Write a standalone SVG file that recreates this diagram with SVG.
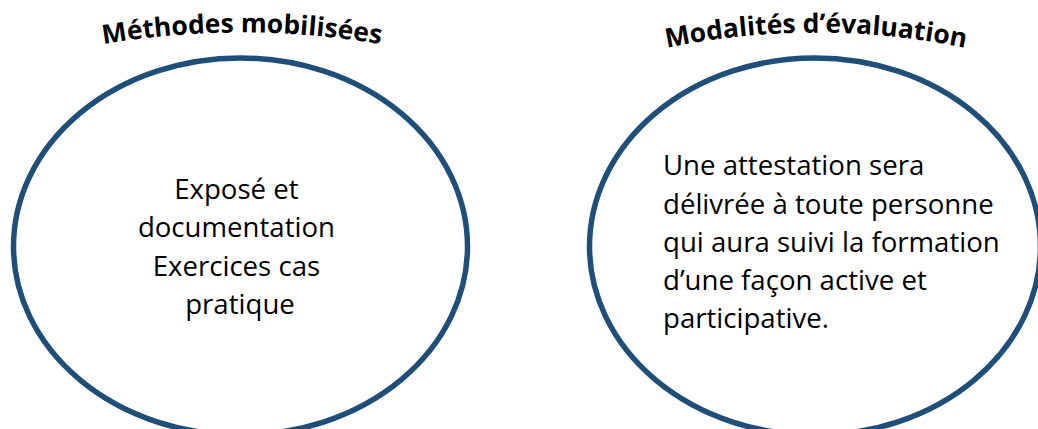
<svg xmlns="http://www.w3.org/2000/svg" xmlns:xlink="http://www.w3.org/1999/xlink" width="1038" height="429" viewBox="0 0 1038 429">
<style>
.oval{fill:#FFFFFF;stroke:#1F4E79;stroke-width:5.5}
.title{font-family:"Open Sans","Noto Sans","Liberation Sans",sans-serif;font-weight:bold;font-size:26.4px;fill:#000000}
.body{font-family:"Open Sans","Noto Sans","Liberation Sans",sans-serif;font-size:27.6px;fill:#000000}
</style>
<defs>
<path id="arcL" d="M 88 47 A 822 822 0 0 1 396 47"/>
<path id="arcR" d="M 650 51.5 A 737 737 0 0 1 982 51.5"/>
</defs>
<rect width="1038" height="429" fill="#FFFFFF"/>
<g id="connectors"/>
<g id="node-methodes">
<ellipse class="oval" cx="240.5" cy="246.5" rx="227" ry="188.5"/>
<text class="title" text-anchor="middle"><textPath xlink:href="#arcL" href="#arcL" startOffset="50%">Méthodes mobilisées</textPath></text>
<text class="body" text-anchor="middle">
<tspan x="240" y="199">Exposé et</tspan>
<tspan x="240" y="237">documentation</tspan>
<tspan x="240" y="276">Exercices cas</tspan>
<tspan x="240" y="314">pratique</tspan>
</text>
</g>
<g id="node-modalites">
<ellipse class="oval" cx="815" cy="246.5" rx="225.5" ry="188.5"/>
<text class="title" text-anchor="middle"><textPath xlink:href="#arcR" href="#arcR" startOffset="50%">Modalités d’évaluation</textPath></text>
<text class="body">
<tspan x="663" y="175">Une attestation sera</tspan>
<tspan x="663" y="214">délivrée à toute personne</tspan>
<tspan x="663" y="252">qui aura suivi la formation</tspan>
<tspan x="663" y="290">d’une façon active et</tspan>
<tspan x="663" y="328">participative.</tspan>
</text>
</g>
</svg>
